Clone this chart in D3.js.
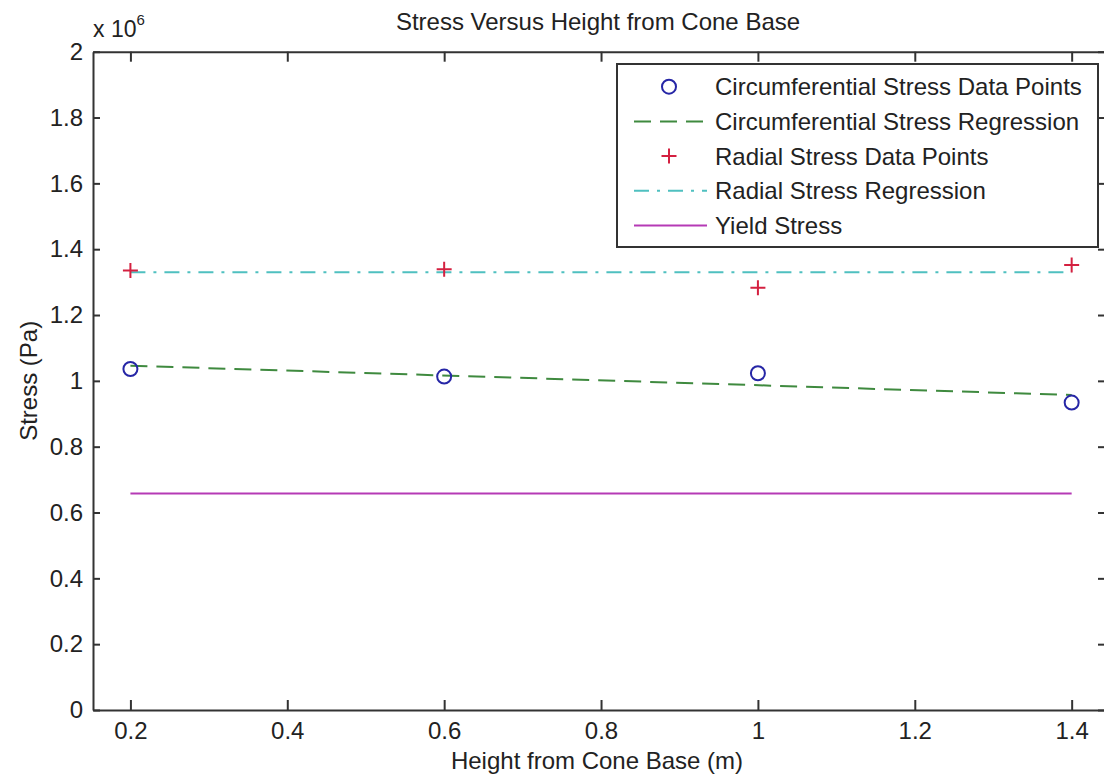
<!DOCTYPE html>
<html>
<head>
<meta charset="utf-8">
<script src="https://cdn.jsdelivr.net/npm/d3@7"></script>
<style>
  html, body { margin: 0; padding: 0; background: #fff; }
  #chart { width: 1104px; height: 778px; overflow: hidden; }
  text { font-family: "Liberation Sans", Arial, sans-serif; fill: #222; }
</style>
</head>
<body>
<div id="chart"></div>
<script>
// data (stress in Pa)
const heights = [0.2, 0.6, 1.0, 1.4];
const circStress = [1.036e6, 1.013e6, 1.023e6, 0.934e6];
const radialStress = [1.335e6, 1.339e6, 1.283e6, 1.352e6];
const fitHeights = [0.2, 1.4];
const circFit = [1.046e6, 0.957e6];
const radialFit = [1.330e6, 1.330e6];
const yieldStress = [0.658e6, 0.658e6];

const xTicks = [0.2, 0.4, 0.6, 0.8, 1.0, 1.2, 1.4];
const yTicks = [0, 0.2e6, 0.4e6, 0.6e6, 0.8e6, 1.0e6, 1.2e6, 1.4e6, 1.6e6, 1.8e6, 2.0e6];

const legendLabels = [
    "Circumferential Stress Data Points",
    "Circumferential Stress Regression",
    "Radial Stress Data Points",
    "Radial Stress Regression",
    "Yield Stress"
];

const W = 1104, H = 778;
const plotLeft = 93, plotRight = 1105, plotTop = 51.7, plotBottom = 710;

const svg = d3.select('#chart')
    .append('svg')
    .attr('width', W)
    .attr('height', H);

const x = d3.scaleLinear().domain([0.1523, 1.4425]).range([plotLeft, plotRight]);
const y = d3.scaleLinear().domain([0, 2e6]).range([plotBottom, plotTop]);

const fontSize = 24;
const axisColor = '#333';

// colours (MATLAB defaults, a little washed out like the picture)
const cBlue = '#2626a6', cGreen = '#3f8a3f', cRed = '#d42040', cCyan = '#4fc0c0', cPurple = '#b53ab5';

// axes, ticks pointing inward
function styleAxis(g) {
    g.attr('font-family', null).attr('font-size', null);
    g.select('.domain').attr('stroke', axisColor).attr('stroke-width', 2);
    g.selectAll('.tick line').attr('stroke', axisColor).attr('stroke-width', 2);
    g.selectAll('.tick text').attr('font-size', fontSize).attr('fill', '#222');
}

svg.append('g')
    .attr('transform', `translate(0,${plotBottom})`)
    .call(d3.axisBottom(x).tickValues(xTicks).tickSizeInner(-10).tickSizeOuter(0).tickPadding(12)
        .tickFormat(d => String(+d.toFixed(1))))
    .call(styleAxis);

svg.append('g')
    .attr('transform', `translate(0,${plotTop})`)
    .call(d3.axisTop(x).tickValues(xTicks).tickSizeInner(-10).tickSizeOuter(0).tickFormat(''))
    .call(styleAxis);

svg.append('g')
    .attr('transform', `translate(${plotLeft},0)`)
    .call(d3.axisLeft(y).tickValues(yTicks).tickSizeInner(-7).tickSizeOuter(0).tickPadding(10)
        .tickFormat(d => String(+(d / 1e6).toFixed(1))))
    .call(styleAxis);

svg.append('g')
    .attr('transform', `translate(${plotRight},0)`)
    .call(d3.axisRight(y).tickValues(yTicks).tickSizeInner(-7).tickSizeOuter(0).tickFormat(''))
    .call(styleAxis);

// exponent label
const expo = svg.append('text')
    .attr('x', plotLeft)
    .attr('y', 37)
    .attr('font-size', fontSize - 1);
expo.append('tspan').text('x 10');
expo.append('tspan').attr('font-size', 15).attr('dy', -12).text('6');

// titles
svg.append('text')
    .attr('x', 598)
    .attr('y', 30)
    .attr('text-anchor', 'middle')
    .attr('font-size', fontSize)
    .text('Stress Versus Height from Cone Base');

svg.append('text')
    .attr('x', 597)
    .attr('y', 769)
    .attr('text-anchor', 'middle')
    .attr('font-size', fontSize)
    .text('Height from Cone Base (m)');

svg.append('text')
    .attr('transform', `translate(37,${(plotTop + plotBottom) / 2}) rotate(-90)`)
    .attr('text-anchor', 'middle')
    .attr('font-size', fontSize)
    .text('Stress (Pa)');

// lines
const line = d3.line().x(d => x(d[0])).y(d => y(d[1]));

const plot = svg.append('g');

plot.append('path')
    .datum(d3.zip(fitHeights, yieldStress))
    .attr('d', line)
    .attr('fill', 'none')
    .attr('stroke', cPurple)
    .attr('stroke-width', 2);

plot.append('path')
    .datum(d3.zip(fitHeights, radialFit))
    .attr('d', line)
    .attr('fill', 'none')
    .attr('stroke', cCyan)
    .attr('stroke-width', 2)
    .attr('stroke-dasharray', '15,8,3,8');

plot.append('path')
    .datum(d3.zip(fitHeights, circFit))
    .attr('d', line)
    .attr('fill', 'none')
    .attr('stroke', cGreen)
    .attr('stroke-width', 2)
    .attr('stroke-dasharray', '17,9');

// markers
plot.selectAll('.circ')
    .data(d3.zip(heights, circStress))
    .enter()
    .append('circle')
    .attr('class', 'circ')
    .attr('cx', d => x(d[0]))
    .attr('cy', d => y(d[1]))
    .attr('r', 7)
    .attr('fill', 'none')
    .attr('stroke', cBlue)
    .attr('stroke-width', 2);

const plus = 7.5;
plot.selectAll('.rad')
    .data(d3.zip(heights, radialStress))
    .enter()
    .append('path')
    .attr('class', 'rad')
    .attr('d', d => `M${x(d[0]) - plus},${y(d[1])}h${2 * plus}M${x(d[0])},${y(d[1]) - plus}v${2 * plus}`)
    .attr('stroke', cRed)
    .attr('stroke-width', 2);

// legend
const lg = svg.append('g').attr('transform', 'translate(617,64)');
lg.append('rect')
    .attr('width', 481)
    .attr('height', 183)
    .attr('fill', '#fff')
    .attr('stroke', axisColor)
    .attr('stroke-width', 2);

const rowY = i => 22.7 + i * 34.7;
const sampleX0 = 17, sampleX1 = 90, markX = 52, textX = 98;

legendLabels.forEach((label, i) => {
    const ry = rowY(i);
    if (i === 0) {
        lg.append('circle').attr('cx', markX).attr('cy', ry).attr('r', 7)
            .attr('fill', 'none').attr('stroke', cBlue).attr('stroke-width', 2);
    } else if (i === 2) {
        lg.append('path')
            .attr('d', `M${markX - plus},${ry}h${2 * plus}M${markX},${ry - plus}v${2 * plus}`)
            .attr('stroke', cRed).attr('stroke-width', 2);
    } else {
        const styles = {1: [cGreen, '17,9'], 3: [cCyan, '15,8,3,8'], 4: [cPurple, null]};
        lg.append('line')
            .attr('x1', sampleX0).attr('x2', sampleX1)
            .attr('y1', ry).attr('y2', ry)
            .attr('stroke', styles[i][0])
            .attr('stroke-width', 2)
            .attr('stroke-dasharray', styles[i][1]);
    }
    lg.append('text')
        .attr('x', textX)
        .attr('y', ry)
        .attr('dy', '0.35em')
        .attr('font-size', fontSize)
        .text(label);
});
</script>
</body>
</html>
